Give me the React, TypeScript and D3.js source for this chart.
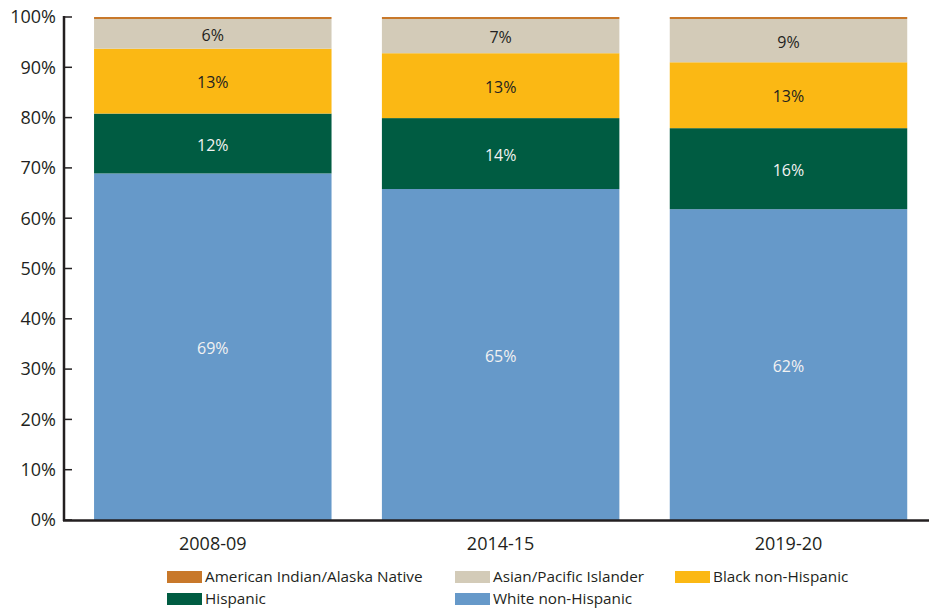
import React from "react";
import * as d3 from "d3";

const categories = ["2008-09", "2014-15", "2019-20"];
const seriesNames = [
  "White non-Hispanic",
  "Hispanic",
  "Black non-Hispanic",
  "Asian/Pacific Islander",
  "American Indian/Alaska Native",
];
const white = [68.9, 65.8, 61.8];
const hispanic = [11.9, 14.1, 16.1];
const black = [12.9, 12.9, 13.1];
const asian = [5.9, 6.8, 8.6];
const aian = [0.4, 0.4, 0.4];
const whiteLabels = ["69%", "65%", "62%"];
const hispanicLabels = ["12%", "14%", "16%"];
const blackLabels = ["13%", "13%", "13%"];
const asianLabels = ["6%", "7%", "9%"];
const yTicks = [0, 10, 20, 30, 40, 50, 60, 70, 80, 90, 100];

const colors: Record<string, string> = {
  "White non-Hispanic": "#6699c9",
  Hispanic: "#005c42",
  "Black non-Hispanic": "#fbb814",
  "Asian/Pacific Islander": "#d3cbb8",
  "American Indian/Alaska Native": "#c8782a",
};
const labelColors: Record<string, string> = {
  "White non-Hispanic": "#f2f2f2",
  Hispanic: "#f2f2f2",
  "Black non-Hispanic": "#231f20",
  "Asian/Pacific Islander": "#231f20",
  "American Indian/Alaska Native": "#231f20",
};

const legendRows = [
  ["American Indian/Alaska Native", "Asian/Pacific Islander", "Black non-Hispanic"],
  ["Hispanic", "White non-Hispanic"],
];

export default function App() {
  const W = 929, H = 609;
  const font = "'Open Sans', 'Noto Sans', sans-serif";
  const axisX = 64;
  const y = d3.scaleLinear().domain([0, 100]).range([520, 17]);
  const x = d3
    .scaleBand<string>()
    .domain(categories)
    .range([axisX, 929])
    .paddingInner(0.175)
    .paddingOuter(0.09)
    .align(0.58);

  const valuesBySeries: Record<string, number[]> = {
    "White non-Hispanic": white,
    Hispanic: hispanic,
    "Black non-Hispanic": black,
    "Asian/Pacific Islander": asian,
    "American Indian/Alaska Native": aian,
  };
  const labelsBySeries: Record<string, string[] | null> = {
    "White non-Hispanic": whiteLabels,
    Hispanic: hispanicLabels,
    "Black non-Hispanic": blackLabels,
    "Asian/Pacific Islander": asianLabels,
    "American Indian/Alaska Native": null,
  };

  const rows = categories.map((c, i) => {
    const r: any = { cat: c };
    seriesNames.forEach((s) => (r[s] = valuesBySeries[s][i]));
    return r;
  });
  const stacked = d3.stack<any>().keys(seriesNames)(rows);

  const legendCols = [167, 455, 675];
  const legendY = [577, 599];

  return (
    <svg
      width={W}
      height={H}
      style={{ position: "absolute", left: 0, top: 0, background: "#fff" }}
      fontFamily={font}
    >
      {stacked.map((layer) => (
        <g key={layer.key}>
          {layer.map((d, i) => (
            <rect
              key={i}
              x={x(categories[i])}
              width={x.bandwidth()}
              y={y(d[1])}
              height={y(d[0]) - y(d[1])}
              fill={colors[layer.key]}
            />
          ))}
        </g>
      ))}
      {stacked.map((layer) => {
        const labs = labelsBySeries[layer.key];
        if (!labs) return null;
        return (
          <g key={"l" + layer.key}>
            {layer.map((d, i) => (
              <text
                key={i}
                x={(x(categories[i]) as number) + x.bandwidth() / 2}
                y={(y(d[0]) + y(d[1])) / 2 + 1.5}
                dy="0.35em"
                textAnchor="middle"
                fontSize={16}
                fill={labelColors[layer.key]}
              >
                {labs[i]}
              </text>
            ))}
          </g>
        );
      })}
      {/* y axis */}
      <line x1={axisX} x2={axisX} y1={y(100) - 1} y2={y(0) + 1} stroke="#231f20" strokeWidth={2.5} />
      {yTicks.map((t) => (
        <g key={t}>
          <line x1={axisX} x2={axisX + 8} y1={y(t)} y2={y(t)} stroke="#231f20" strokeWidth={1.5} />
          <text
            x={56}
            y={y(t)}
            dy="0.35em"
            textAnchor="end"
            fontSize={18}
            fill="#231f20"
          >
            {t}%
          </text>
        </g>
      ))}
      {/* x axis */}
      <line x1={axisX - 1} x2={929} y1={y(0) + 0.5} y2={y(0) + 0.5} stroke="#231f20" strokeWidth={2.5} />
      {categories.map((c) => (
        <text
          key={c}
          x={(x(c) as number) + x.bandwidth() / 2}
          y={550}
          textAnchor="middle"
          fontSize={18}
          fill="#231f20"
        >
          {c}
        </text>
      ))}
      {/* legend */}
      {legendRows.map((row, ri) =>
        row.map((s, ci) => (
          <g key={s} transform={`translate(${legendCols[ci]},${legendY[ri]})`}>
            <rect x={0} y={-6} width={35} height={12} fill={colors[s]} />
            <text x={38} y={0} dy="0.35em" fontSize={15.3} fill="#231f20">
              {s}
            </text>
          </g>
        ))
      )}
    </svg>
  );
}
